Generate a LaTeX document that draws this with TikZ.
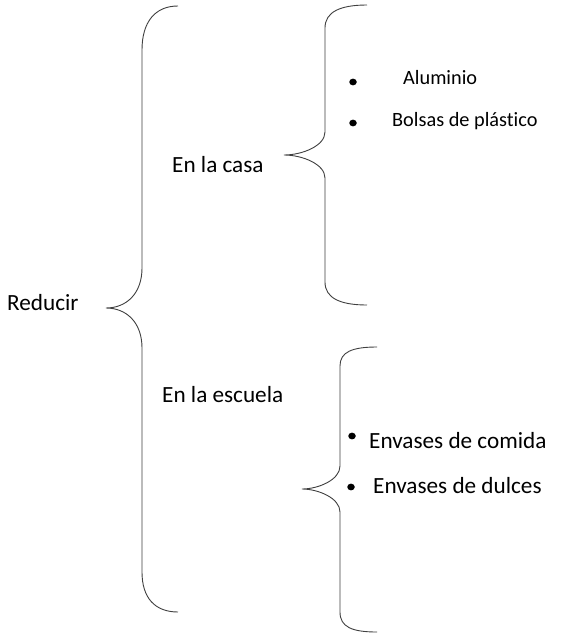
\documentclass[tikz,border=0pt]{standalone}
\usepackage{fontspec}
\setmainfont[Ligatures=NoCommon]{Carlito}
\usetikzlibrary{shapes.geometric}
\begin{document}
\begin{tikzpicture}[x=1pt,y=-1pt,
  bracestyle/.style={draw=black!75,line width=0.9pt},
  big/.style={font=\fontsize{23.2}{26}\selectfont,anchor=base west,inner sep=0pt,text=black},
  small/.style={font=\fontsize{20.3}{24}\selectfont,anchor=base west,inner sep=0pt,text=black},
  dot/.style={ellipse,fill=black,inner sep=0pt,minimum width=7.5pt,minimum height=6.8pt}]
\useasboundingbox (0,0) rectangle (567,643);
\fill[white] (0,0) rectangle (567,643);
% nodes
\node[big] (reducir) at (7,310) {Reducir};
\node[big] (casa) at (172,172) {En la casa};
\node[big] (escuela) at (162,402) {En la escuela};
\node[small] (alu) at (403,84) {Aluminio};
\node[small] (bolsas) at (392,126) {Bolsas de plástico};
\node[big] (comida) at (369,448) {Envases de comida};
\node[big] (dulces) at (373,493) {Envases de dulces};
\node[dot] (d1) at (353,82) {};
\node[dot] (d2) at (353,123) {};
\node[dot] (d3) at (352,436) {};
\node[dot] (d4) at (351,487) {};
% big brace
\coordinate (b1) at (178,6);
\coordinate (btip) at (106,308);
\coordinate (b2) at (178,612);
\draw[bracestyle] (b1) .. controls (155,6) and (142,22) .. (142,50) -- (142,268)
  .. controls (142,294) and (126,308) .. (btip)
  .. controls (126,308) and (142,322) .. (142,348) -- (142,572)
  .. controls (142,598) and (155,612) .. (b2);
% upper right brace
\coordinate (u1) at (367,5);
\coordinate (utip) at (284,155);
\coordinate (u2) at (367,305);
\draw[bracestyle] (u1) .. controls (340,5) and (325,12) .. (325,28) -- (325,132)
  .. controls (325,146) and (302,155) .. (utip)
  .. controls (302,155) and (325,164) .. (325,178) -- (325,282)
  .. controls (325,298) and (340,305) .. (u2);
% lower right brace
\coordinate (l1) at (377,347);
\coordinate (ltip) at (302,489);
\coordinate (l2) at (377,632);
\draw[bracestyle] (l1) .. controls (352,347) and (340,352) .. (340,366) -- (340,466)
  .. controls (340,480) and (318,489) .. (ltip)
  .. controls (318,489) and (340,498) .. (340,512) -- (340,612)
  .. controls (340,627) and (352,632) .. (l2);
\end{tikzpicture}
\end{document}
